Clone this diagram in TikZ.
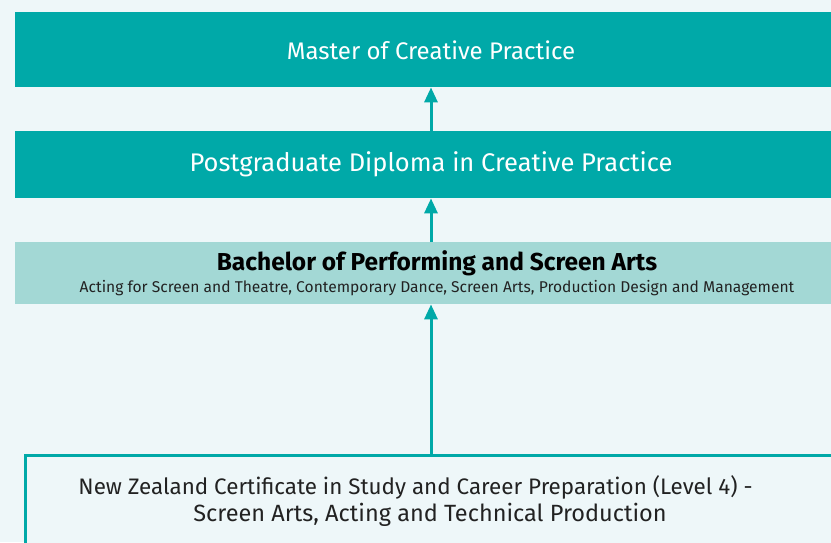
\documentclass[tikz,border=0pt]{standalone}
\usepackage{fontspec}
\setmainfont{Fira Sans}
\usetikzlibrary{arrows.meta}
\definecolor{teal1}{HTML}{00A9A8}
\definecolor{teal2}{HTML}{A3D8D5}
\definecolor{bgc}{HTML}{EEF7F9}
\definecolor{txt}{HTML}{222222}
\begin{document}
\begin{tikzpicture}[x=1pt,y=-1pt,
  darkbox/.style={fill=teal1,text=white,inner sep=0pt,anchor=north west,minimum width=832pt},
  lightbox/.style={fill=teal2,text=black,inner sep=0pt,anchor=north west,minimum width=832pt,minimum height=62pt,align=center},
  outbox/.style={draw=teal1,line width=3pt,fill=bgc,text=txt,inner sep=0pt,anchor=north west,minimum width=816pt,minimum height=120pt},
  uparrow/.style={draw=teal1,line width=3pt,-{Triangle[width=13pt,length=15pt]}}]
\useasboundingbox (0,0) rectangle (831,542);
\clip (0,0) rectangle (831,542);
\fill[bgc] (0,0) rectangle (831,542);
\node[darkbox,minimum height=75pt] (master) at (15,12) {};
\node[text=white,font=\fontsize{24}{28}\selectfont] (mastert) at (431,50) {Master of Creative Practice};
\node[darkbox,minimum height=67pt] (pgd) at (15,131) {};
\node[text=white,font=\fontsize{25.5}{30}\selectfont] (pgdt) at (431,164) {Postgraduate Diploma in Creative Practice};
\node[lightbox] (bach) at (15,242) {};
\node[font=\fontsize{24.5}{29}\selectfont\bfseries] (bacht) at (437,263) {Bachelor of Performing and Screen Arts};
\node[text=txt,font=\fontsize{15.6}{18}\selectfont] (bachs) at (437,288) {Acting for Screen and Theatre, Contemporary Dance, Screen Arts, Production Design and Management};
\node[outbox] (nzc) at (24,454) {};
\node[text=txt,font=\fontsize{22.4}{27}\selectfont] (nzct1) at (415.5,487) {New Zealand Certificate in Study and Career Preparation (Level 4) -};
\node[text=txt,font=\fontsize{23.5}{27}\selectfont] (nzct2) at (430,515) {Screen Arts, Acting and Technical Production};
\coordinate (a1s) at (431,198);
\coordinate (a1e) at (431,88);
\draw[uparrow] (pgd.north -| a1s) -- (master.south -| a1e);
\draw[uparrow] (bach.north -| a1s) -- (pgd.south -| a1e);
\draw[uparrow] (nzc.north -| a1s) -- (bach.south -| a1e);
\end{tikzpicture}
\end{document}
